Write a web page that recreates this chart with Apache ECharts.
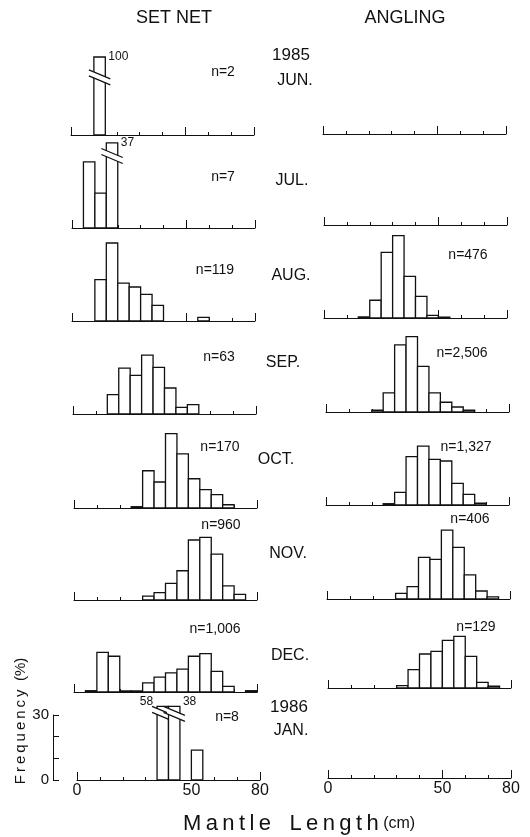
<!DOCTYPE html>
<html><head><meta charset="utf-8">
<script src="https://cdn.jsdelivr.net/npm/echarts@6.0.0/dist/echarts.min.js"></script>
<style>html,body{margin:0;padding:0;background:#fff}#c{width:530px;height:837px}</style>
</head><body><div id="c"></div>
<script>
// ---------- DATA ----------
const binStarts = [0,5,10,15,20,25,30,35,40,45,50,55,60,65,70,75];
const binWidth = 5;
const xTickLabels = [0, 50, 80];
const yTickLabels = [0, 30];
const monthLabels = ['JUN.','JUL.','AUG.','SEP.','OCT.','NOV.','DEC.','JAN.'];
const yearLabels = ['1985','1986'];
const setNetN = ['n=2','n=7','n=119','n=63','n=170','n=960','n=1,006','n=8'];
const anglingN = ['','','n=476','n=2,506','n=1,327','n=406','n=129',''];

const setNetJun = [0,0,100,0,0,0,0,0,0,0,0,0,0,0,0,0];
const setNetJul = [0,30.5,16.1,37,0,0,0,0,0,0,0,0,0,0,0,0];
const setNetAug = [0,0,19.1,36,17.5,15.7,12.3,7.2,0,0,0,1.7,0,0,0,0];
const setNetSep = [0,0,0,8.9,21.2,17.8,27.2,21.5,12,3.1,4.3,0,0,0,0,0];
const setNetOct = [0,0,0,0,0,0.6,17.2,12,34.3,25,13.5,8.5,6.2,1.5,0,0];
const setNetNov = [0,0,0,0,0,0,1.8,3.4,7.7,13.5,27.7,28.9,21.2,6.5,2.6,0];
const setNetDec = [0,0.6,18.3,16.5,0.5,0.5,4.2,6.9,8.8,10.6,16.5,17.7,9.5,2.6,0,0.6];
const setNetJan = [0,0,0,0,0,0,0,58,38,0,13.8,0,0,0,0,0];

const anglingJun = [0,0,0,0,0,0,0,0,0,0,0,0,0,0,0,0];
const anglingJul = [0,0,0,0,0,0,0,0,0,0,0,0,0,0,0,0];
const anglingAug = [0,0,0,0.5,8.2,30.3,38,19.2,10,1.2,0.4,0,0,0,0,0];
const anglingSep = [0,0,0,0,0.8,8.8,31,34.8,21.1,8.8,4.5,2.3,0.8,0,0,0];
const anglingOct = [0,0,0,0,0,0.6,5.8,22.3,27.2,21.1,20.3,10,4.9,0.8,0,0];
const anglingNov = [0,0,0,0,0,0,2.6,5.7,19.2,18.3,31.8,23.8,11.1,3.7,1.0,0];
const anglingDec = [0,0,0,0,0,0,1.1,8.5,15.7,16.9,22,23.8,14.6,2.6,0.8,0];
const anglingJan = [0,0,0,0,0,0,0,0,0,0,0,0,0,0,0,0];

// bins whose bars are drawn with a scale break
const setNetJunBroken = [10];
const setNetJulBroken = [15];
const setNetJanBroken = [35, 40];

// ---------- LAYOUT ----------
const FONT = '"Liberation Sans", Arial, Helvetica, sans-serif';
const INK = '#111';
const leftX  = [71, 72, 72, 73, 74, 74, 74, 77];
const rightX = [323, 324, 324, 326, 326, 327, 328, 328];
const leftBase  = [135, 228, 321, 414, 508, 600, 692, 780];
const rightBase = [134, 225, 318, 412, 505, 599, 688, 778];
const PANEL_W = 183, PANEL_H = 65, YMAX = 30;

const setNetRows = [setNetJun, setNetJul, setNetAug, setNetSep, setNetOct, setNetNov, setNetDec, setNetJan];
const anglingRows = [anglingJun, anglingJul, anglingAug, anglingSep, anglingOct, anglingNov, anglingDec, anglingJan];
const brokenCfg = {
  0: {bins: setNetJunBroken, cap: 36, mid: 26.6, va: 'middle'},
  1: {bins: setNetJulBroken, cap: 39.3, mid: 33.2, va: 'middle'},
  7: {bins: setNetJanBroken, cap: 34, mid: 30.5, va: 'bottom'}
};

function renderer(brk) {
  return function (params, api) {
    const x0 = api.value(0), v = api.value(1);
    if (!v) return;
    const isBroken = !!brk && brk.bins.indexOf(x0) >= 0;
    const h = isBroken ? brk.cap : v;
    const a = api.coord([x0, 0]);
    const b = api.coord([x0 + binWidth, h]);
    const kids = [{
      type: 'rect',
      shape: {x: a[0], y: b[1], width: b[0] - a[0], height: a[1] - b[1]},
      style: {fill: '#fff', stroke: INK, lineWidth: 1.3}
    }];
    if (isBroken) {
      const ym = api.coord([x0, brk.mid])[1];
      const xc = (a[0] + b[0]) / 2, half = (b[0] - a[0]) / 2;
      const s = 0.42, g = 3;
      const yAt = (x, off) => ym + off + (x - xc) * s;
      const e = half + 1.5, L = half + 5;
      kids.push({type: 'polygon', shape: {points: [
        [xc - e, yAt(xc - e, -g)], [xc + e, yAt(xc + e, -g)],
        [xc + e, yAt(xc + e, g)], [xc - e, yAt(xc - e, g)]]},
        style: {fill: '#fff', stroke: null}});
      kids.push({type: 'line', shape: {x1: xc - L, y1: yAt(xc - L, -g), x2: xc + L, y2: yAt(xc + L, -g)},
        style: {stroke: INK, lineWidth: 1.2}});
      kids.push({type: 'line', shape: {x1: xc - L, y1: yAt(xc - L, g), x2: xc + L, y2: yAt(xc + L, g)},
        style: {stroke: INK, lineWidth: 1.2}});
      const nextBroken = brk.bins.indexOf(x0 + binWidth) >= 0;
      kids.push({type: 'text', style: {
        text: String(v), x: nextBroken ? a[0] - 4 : b[0] + 3,
        y: brk.va === 'bottom' ? b[1] + 1 : b[1],
        align: nextBroken ? 'right' : 'left', verticalAlign: brk.va,
        font: '12px ' + FONT, fill: INK}});
    }
    return {type: 'group', children: kids};
  };
}

const grids = [], xAxes = [], yAxes = [], series = [];
for (let r = 0; r < 8; r++) {
  for (let c = 0; c < 2; c++) {
    const g = grids.length;
    const base = c === 0 ? leftBase[r] : rightBase[r];
    grids.push({left: c === 0 ? leftX[r] : rightX[r], top: base - PANEL_H, width: PANEL_W, height: PANEL_H,
      containLabel: false, outerBoundsMode: 'none'});
    const xi = xAxes.length;
    xAxes.push({type: 'value', gridIndex: g, min: 0, max: 80, interval: 10, position: 'bottom',
      axisLine: {show: true, onZero: false, lineStyle: {color: INK, width: 1}},
      axisTick: {show: true, inside: true, length: 3, lineStyle: {color: INK, width: 1}},
      axisLabel: {show: r === 7, margin: 3, fontSize: 16, color: INK, fontFamily: FONT,
        formatter: v => xTickLabels.indexOf(v) >= 0 ? String(v) : ''},
      splitLine: {show: false}});
    xAxes.push({type: 'value', gridIndex: g, min: 0, max: 80, interval: 50, position: 'bottom',
      axisLine: {show: false},
      axisTick: {show: true, inside: true, length: 8, lineStyle: {color: INK, width: 1}},
      axisLabel: {show: false}, splitLine: {show: false}});
    const yi = yAxes.length;
    const showY = (r === 7 && c === 0);
    yAxes.push({type: 'value', gridIndex: g, min: 0, max: YMAX, interval: 10, show: showY,
      position: 'left', offset: 24,
      axisLine: {show: true, onZero: false, lineStyle: {color: INK, width: 1}},
      axisTick: {show: true, inside: true, length: 6, lineStyle: {color: INK}},
      axisLabel: {show: true, margin: 4, fontSize: 15, color: INK, fontFamily: FONT,
        formatter: v => yTickLabels.indexOf(v) >= 0 ? String(v) : ''},
      splitLine: {show: false}});
    const vals = c === 0 ? setNetRows[r] : anglingRows[r];
    const brk = c === 0 ? brokenCfg[r] : null;
    series.push({type: 'custom', xAxisIndex: xi, yAxisIndex: yi, clip: false,
      encode: {x: 0, y: 1}, silent: true, animation: false,
      renderItem: renderer(brk),
      data: binStarts.map((b, i) => [b, vals[i]]).filter(d => d[1] > 0)});
  }
}

function txt(text, x, y, size, align, extra) {
  return Object.assign({type: 'text', x: x, y: y, silent: true,
    style: {text: text, font: size + 'px ' + FONT, fill: INK, align: align || 'center', verticalAlign: 'middle'}}, extra || {});
}
const TS = '\u2009';
const spaced = s => s.split('').join(TS);
const graphics = [
  txt('SET NET', 174, 18, 18),
  txt('ANGLING', 405, 18, 18)
];
const monthPos = [[295,81],[292,181],[291,276],[283,363],[276,460],[288,554],[290,656],[291,731]];
monthLabels.forEach((m, i) => graphics.push(txt(m, monthPos[i][0], monthPos[i][1], 16)));
graphics.push(txt(yearLabels[0], 291, 55, 17));
graphics.push(txt(yearLabels[1], 289, 707, 17));
const snPos = [[223,72],[223,177],[215,270],[219,357],[220,447],[221,525],[215,629],[227,717]];
setNetN.forEach((t, i) => graphics.push(txt(t, snPos[i][0], snPos[i][1], 14)));
const anPos = [[0,0],[0,0],[468,255],[462,353],[466,447],[470,519],[476,627],[0,0]];
anglingN.forEach((t, i) => { if (t) graphics.push(txt(t, anPos[i][0], anPos[i][1], 14)); });
graphics.push(txt(spaced('Frequency') + '  (%)', 21, 721, 15, 'center', {rotation: Math.PI / 2}));
graphics.push({type: 'text', x: 183, y: 824, silent: true, style: {
  text: '{a|' + spaced('Mantle') + '   ' + spaced('Length') + '}{b| (cm)}', align: 'left', verticalAlign: 'middle',
  rich: {a: {font: '22px ' + FONT, fill: INK}, b: {font: '16px ' + FONT, fill: INK}}}});

const chart = echarts.init(document.getElementById('c'), null, {renderer: 'canvas'});
chart.setOption({
  animation: false,
  backgroundColor: '#fff',
  grid: grids, xAxis: xAxes, yAxis: yAxes, series: series,
  graphic: {elements: graphics}
});
</script></body></html>
